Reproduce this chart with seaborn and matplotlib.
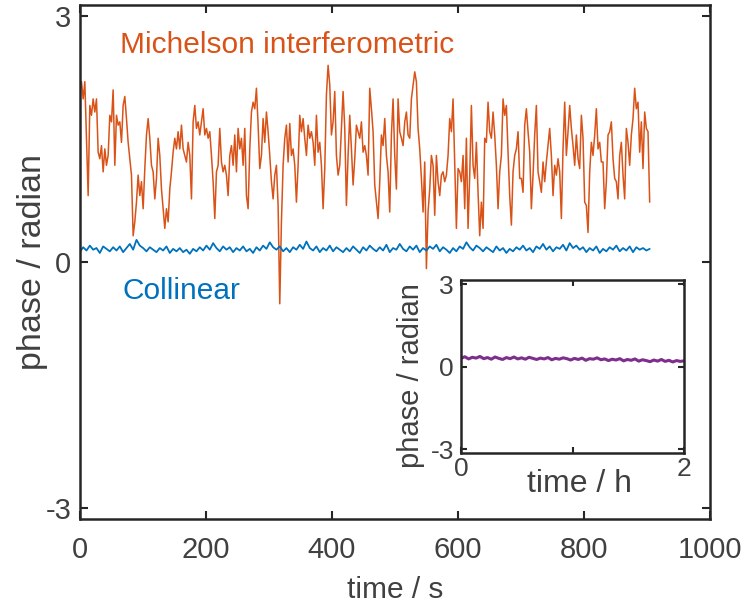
import numpy as np
import pandas as pd
import matplotlib
matplotlib.use("Agg")
import matplotlib.pyplot as plt
import seaborn as sns

sns.set_style("ticks")
plt.rcParams["font.family"] = ["Liberation Sans", "DejaVu Sans"]
plt.rcParams["axes.unicode_minus"] = False

# Michelson interferometric phase (rad), sampled every ~2.64 s
michelson = [
    2.08, 2.20, 1.99, 2.20, 1.51, 0.81, 1.91, 1.79, 1.99, 1.83,
    1.99, 1.34, 1.26, 1.42, 1.10, 1.38, 1.18, 1.30, 1.79, 1.71,
    2.10, 1.18, 1.79, 1.67, 1.71, 1.46, 1.91, 2.02, 1.75, 1.46,
    1.26, 1.06, 0.32, 0.49, 0.73, 1.06, 0.81, 0.98, 0.65, 1.14,
    1.55, 1.75, 1.51, 1.18, 1.10, 0.77, 1.02, 1.51, 1.30, 0.89,
    0.65, 0.41, 0.65, 0.49, 0.89, 1.10, 1.34, 1.51, 1.38, 1.59,
    1.38, 1.67, 1.38, 1.30, 1.22, 1.46, 1.30, 0.77, 1.71, 1.91,
    1.63, 1.71, 1.55, 1.71, 1.87, 1.55, 1.63, 1.51, 1.59, 1.30,
    0.98, 0.53, 1.10, 1.18, 1.63, 1.22, 1.10,
    1.18, 1.06, 0.81, 1.30, 1.42, 1.18, 1.55, 1.10, 1.63, 1.38,
    1.51, 1.18, 1.63, 0.81, 0.65, 1.38, 1.83, 1.95, 1.87, 2.12,
    1.67, 1.14, 1.30, 1.75, 1.46, 1.83, 1.59, 1.30, 0.98, 0.77,
    1.06, 1.18, 0.69, -0.51, 0.49, 1.18, 1.51, 1.67, 1.22, 1.69,
    1.30, 1.38, 1.18, 0.73, 1.18, 1.79, 1.59, 1.75, 1.51, 1.30,
    1.67, 1.51, 1.59, 1.46, 1.18, 1.79, 1.34, 1.46, 1.18, 0.65,
    1.14, 2.04, 2.40, 2.16, 1.55, 1.71, 2.08, 1.30, 1.06, 1.18,
    1.63, 2.08, 1.63, 0.69, 1.30, 1.79, 1.38, 0.94, 1.26, 1.67,
    1.59, 1.51, 1.71, 1.34, 1.42, 1.30, 1.06,
    2.12, 1.87, 1.59, 0.94, 0.73, 0.53, 0.98, 1.55, 1.42, 1.75,
    1.30, 1.10, 0.61, 1.55, 1.99, 1.30, 0.89, 1.99, 1.59, 1.51,
    1.42, 1.71, 1.83, 1.55, 1.51, 1.99, 2.16, 2.32, 2.20, 1.63,
    1.38, 1.02, 0.61, 1.22, -0.08, 0.61, 0.89, 1.30, 1.18, 0.57,
    1.30, 0.98, 0.81, 1.06, 1.10, 0.98, 1.06, 1.30, 1.75, 1.59,
    1.99, 1.22, 0.41, 1.14, 1.10, 0.98, 1.30, 0.65, 1.51, 0.41,
    1.06, 1.91, 1.18, 1.02, 1.46, 0.85, 0.32, 0.73, 0.41, 1.51,
    1.46, 1.95, 1.59, 1.51, 1.83, 1.55, 1.18, 0.65, 1.10, 1.30,
    1.99, 1.79, 1.91, 1.34, 0.81, 0.45, 1.10,
    1.30, 1.38, 1.59, 1.02, 1.02, 0.85, 1.67, 1.87, 1.59, 1.34,
    0.65, 1.06, 1.55, 1.91, 1.10, 0.98, 0.85, 1.22, 0.98, 1.22,
    1.42, 1.63, 1.30, 0.81, 1.18, 1.06, 1.26, 1.10, 0.53, 1.38,
    1.95, 1.30, 1.59, 1.91, 1.63, 1.42, 1.18, 1.55, 1.26, 1.14,
    1.79, 1.51, 0.73, 0.69, 0.36, 1.10, 1.46, 1.30, 1.55, 1.87,
    1.38, 1.46, 1.22, 1.22, 0.65, 0.98, 1.55, 1.59, 1.71, 1.26,
    1.02, 0.98, 0.77, 1.30, 1.46, 1.06, 0.77, 1.63, 1.46, 1.18,
    1.55, 1.75, 2.12, 1.87, 1.95, 1.34, 1.71, 1.14, 1.83, 1.63,
    1.59, 0.73,
]

# collinear phase (rad)
collinear = [
    0.12, 0.18, 0.14, 0.20, 0.15, 0.17, 0.11, 0.19, 0.16, 0.13,
    0.18, 0.14, 0.19, 0.12, 0.17, 0.22, 0.15, 0.27, 0.20, 0.17,
    0.13, 0.18, 0.15, 0.12, 0.17, 0.14, 0.19, 0.11, 0.16, 0.13,
    0.17, 0.12, 0.15, 0.10, 0.16, 0.13, 0.18, 0.14, 0.20, 0.15,
    0.23, 0.17, 0.13, 0.19, 0.15, 0.18, 0.12, 0.17, 0.14, 0.19,
    0.13, 0.16, 0.11, 0.18, 0.14, 0.20, 0.16, 0.24, 0.18, 0.15,
    0.19, 0.13, 0.17, 0.12, 0.18, 0.15, 0.21, 0.16, 0.25, 0.17,
    0.14, 0.19, 0.12, 0.17, 0.14, 0.20, 0.13, 0.18, 0.15, 0.12,
    0.17, 0.13, 0.19, 0.15, 0.11, 0.18, 0.14, 0.20, 0.16, 0.13,
    0.18, 0.14, 0.21, 0.12, 0.17, 0.15, 0.22, 0.16, 0.13, 0.19,
    0.15, 0.20, 0.12, 0.17, 0.14, 0.19, 0.16, 0.21, 0.13, 0.18,
    0.15, 0.11, 0.17, 0.13, 0.19, 0.16, 0.24, 0.18, 0.14, 0.20,
    0.17, 0.13, 0.18, 0.15, 0.12, 0.19, 0.14, 0.17, 0.11, 0.16,
    0.13, 0.18, 0.15, 0.20, 0.14, 0.17, 0.12, 0.19, 0.16, 0.22,
    0.15, 0.19, 0.13, 0.18, 0.16, 0.21, 0.14, 0.23, 0.17, 0.20,
    0.15, 0.18, 0.12, 0.17, 0.14, 0.19, 0.11, 0.16, 0.13, 0.18,
    0.15, 0.20, 0.13, 0.17, 0.14, 0.19, 0.12, 0.18, 0.15, 0.17,
    0.14, 0.16,
]

# long-term collinear phase over 2 h (rad)
longterm = [
    0.30, 0.36, 0.28, 0.34, 0.31, 0.37, 0.29, 0.33, 0.27, 0.35,
    0.30, 0.26, 0.33, 0.29, 0.35, 0.28, 0.32, 0.27, 0.34, 0.30,
    0.26, 0.31, 0.28, 0.33, 0.25, 0.30, 0.27, 0.32, 0.29, 0.24,
    0.30, 0.26, 0.31, 0.23, 0.29, 0.27, 0.32, 0.25, 0.28, 0.22,
    0.27, 0.24, 0.29, 0.21, 0.26, 0.23, 0.28, 0.20, 0.25, 0.22,
    0.18, 0.24, 0.20, 0.26, 0.19, 0.23, 0.17, 0.22, 0.19, 0.21,
]

t_end = 904  # s, last sample
hours = 2

df_m = pd.DataFrame({"t": np.linspace(0, t_end, len(michelson)), "phase": michelson})
df_c = pd.DataFrame({"t": np.linspace(0, t_end, len(collinear)), "phase": collinear})
df_l = pd.DataFrame({"t": np.linspace(0, hours, len(longterm)), "phase": longterm})

ORANGE = "#D95319"
BLUE = "#0072BD"
PURPLE = "#7E2F8E"
GREY = "#404040"
EDGE = "#262626"


def box(a):
    for s in a.spines.values():
        s.set_linewidth(1.8)
        s.set_color(EDGE)
        s.set_visible(True)


fig = plt.figure(figsize=(7.46, 6.04), dpi=100)
ax = fig.add_axes([0.107, 0.14, 0.845, 0.8525])

sns.lineplot(data=df_m, x="t", y="phase", color=ORANGE, lw=1.1, ax=ax)
sns.lineplot(data=df_c, x="t", y="phase", color=BLUE, lw=1.3, ax=ax)

ax.set_xlim(0, 1000)
ax.set_ylim(-np.pi, np.pi)
ax.set_xticks([0, 200, 400, 600, 800, 1000])
ax.set_yticks([-3, 0, 3])
ax.set_xlabel("time / s", fontsize=21.5, color=GREY)
ax.set_ylabel("phase / radian", fontsize=24.5, color=GREY)
ax.xaxis.set_label_coords(0.5, -0.11)
ax.yaxis.set_label_coords(-0.051, 0.5)
ax.tick_params(direction="in", top=True, right=True, length=6, width=1.5,
               labelsize=21, labelcolor=GREY, color=EDGE)
ax.tick_params(axis="x", pad=12)
ax.tick_params(axis="y", pad=6)
box(ax)

ax.text(63, 2.65, "Michelson interferometric", color=ORANGE, fontsize=21.5, va="center")
ax.text(67, -0.35, "Collinear", color=BLUE, fontsize=21.5, va="center")

# inset: long-term stability
ins = fig.add_axes([0.618, 0.25, 0.299, 0.286])
sns.lineplot(data=df_l, x="t", y="phase", color=PURPLE, lw=2.2, ax=ins)
ins.set_xlim(0, 2)
ins.set_ylim(-np.pi, np.pi)
ins.set_xticks([0, 1, 2])
ins.set_xticklabels(["0", "", "2"])
ins.set_yticks([-3, 0, 3])
ins.set_xlabel("time / h", fontsize=23, color=GREY)
ins.set_ylabel("phase / radian", fontsize=21, color=GREY)
ins.xaxis.set_label_coords(0.53, -0.095)
ins.yaxis.set_label_coords(-0.16, 0.45)
ins.tick_params(direction="in", top=True, right=True, length=4, width=1.5,
                labelsize=19, labelcolor=GREY, color=EDGE)
ins.tick_params(axis="x", pad=3)
ins.tick_params(axis="y", pad=5)
box(ins)

fig.savefig("out.png", dpi=100)
